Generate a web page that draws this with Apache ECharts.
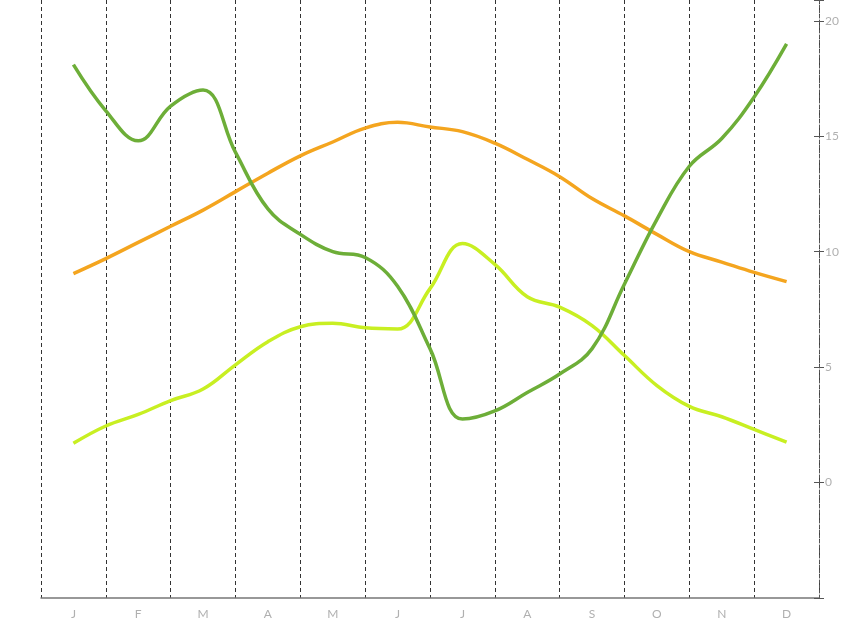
<!DOCTYPE html>
<html>
<head>
<meta charset="utf-8">
<script src="https://cdn.jsdelivr.net/npm/echarts@6/dist/echarts.min.js"></script>
<style>
html, body { margin: 0; padding: 0; background: #fff; }
#chart { width: 854px; height: 630px; }
</style>
</head>
<body>
<div id="chart"></div>
<script>
// months on the category axis
var months = ['J', 'F', 'M', 'A', 'M', 'J', 'J', 'A', 'S', 'O', 'N', 'D'];
// half-month positions of the readings (0 = left edge of J)
var steps = [0.5, 1, 1.5, 2, 2.5, 3, 3.5, 4, 4.5, 5, 5.5, 6, 6.5, 7, 7.5, 8, 8.5, 9, 9.5, 10, 10.5, 11, 11.5];
var orange = [9.05, 9.7, 10.4, 11.1, 11.8, 12.6, 13.4, 14.15, 14.75, 15.35, 15.6, 15.4, 15.2, 14.7, 14.0, 13.25, 12.3, 11.55, 10.75, 10.0, 9.55, 9.1, 8.7];
var green = [18.1, 16.1, 14.8, 16.3, 17.0, 14.3, 11.85, 10.75, 10.0, 9.75, 8.5, 5.8, 2.75, 3.1, 3.9, 4.7, 5.8, 8.6, 11.4, 13.7, 14.9, 16.7, 19.0];
var lime = [1.7, 2.45, 2.95, 3.55, 4.05, 5.1, 6.1, 6.75, 6.9, 6.7, 6.65, 8.4, 10.35, 9.45, 8.05, 7.6, 6.8, 5.5, 4.2, 3.3, 2.85, 2.3, 1.75];

function pairs(vals) {
    return steps.map(function (x, i) { return [x, vals[i]]; });
}

var labelStyle = { color: '#b0b0b0', fontSize: 12, fontFamily: 'Lato' };
var box = { left: 41, right: 35, top: 0, bottom: 32 };

var option = {
    animation: false,
    backgroundColor: '#fff',
    // second grid only carries the inner half of the "+" ticks
    grid: [box, box],
    xAxis: [{
        type: 'category',
        gridIndex: 0,
        data: months,
        boundaryGap: true,
        axisLine: { onZero: false, lineStyle: { color: '#777', width: 1.5 } },
        axisTick: { length: 5, lineStyle: { color: '#666' } },
        axisLabel: Object.assign({ margin: 10 }, labelStyle),
        splitLine: { show: true, lineStyle: { color: '#333', type: [4, 3], width: 1 } }
    }, {
        type: 'value',
        gridIndex: 0,
        min: 0,
        max: 12,
        show: false
    }, {
        type: 'category',
        gridIndex: 1,
        data: months,
        boundaryGap: true,
        axisLine: { show: false, onZero: false },
        axisTick: { inside: true, length: 4, lineStyle: { color: '#666' } },
        axisLabel: { show: false }
    }],
    yAxis: [{
        type: 'value',
        gridIndex: 0,
        position: 'right',
        min: -5,
        max: 20.9,
        interval: 5,
        axisLine: { show: true, onZero: false, lineStyle: { color: '#555', type: [3, 2], width: 1 } },
        axisTick: { show: true, length: 5, lineStyle: { color: '#555' } },
        axisLabel: Object.assign({
            margin: 6,
            formatter: function (v) { return (v >= 0 && v % 5 === 0) ? v : ''; }
        }, labelStyle),
        splitLine: { show: false }
    }, {
        type: 'value',
        gridIndex: 1,
        position: 'right',
        min: -5,
        max: 20.9,
        interval: 5,
        axisLine: { show: false, onZero: false },
        axisTick: { show: true, inside: true, length: 5, lineStyle: { color: '#555' } },
        axisLabel: { show: false },
        splitLine: { show: false }
    }],
    series: [{
        name: 'orange',
        type: 'line',
        xAxisIndex: 1,
        yAxisIndex: 0,
        data: pairs(orange),
        smooth: 0.4,
        symbol: 'none',
        lineStyle: { color: '#f4a51f', width: 3.5 }
    }, {
        name: 'lime',
        type: 'line',
        xAxisIndex: 1,
        yAxisIndex: 0,
        data: pairs(lime),
        smooth: 0.4,
        symbol: 'none',
        lineStyle: { color: '#c8ef22', width: 3.5 }
    }, {
        name: 'green',
        type: 'line',
        xAxisIndex: 1,
        yAxisIndex: 0,
        data: pairs(green),
        smooth: 0.4,
        symbol: 'none',
        lineStyle: { color: '#6dae38', width: 3.5 }
    }]
};

var myChart = echarts.init(document.getElementById('chart'));
myChart.setOption(option);
window.onresize = function () {
    myChart.resize();
};
</script>
</body>
</html>
